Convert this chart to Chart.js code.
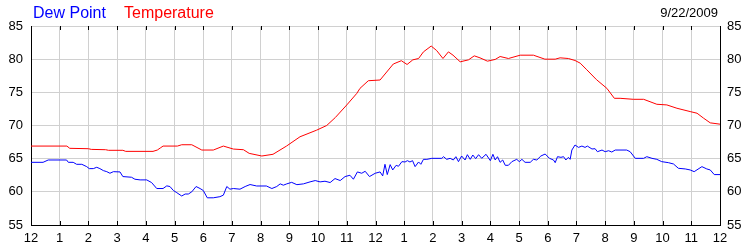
<!DOCTYPE html>
<html>
<head>
<meta charset="utf-8">
<script src="https://cdn.jsdelivr.net/npm/chart.js@4.4.1/dist/chart.umd.min.js"></script>
<style>
  body { margin: 0; background: #fff; }
  #wrap { width: 750px; height: 250px; }
</style>
</head>
<body>
<div id="wrap"><canvas id="weather-chart" width="750" height="250"></canvas></div>
<script>
// hours since midnight, 9/22/2009
const tempHours = [0, 1.25, 1.35, 2.0, 2.1, 2.6, 2.7, 3.2, 3.3, 4.25, 4.4, 4.5, 4.6, 5.1, 5.25, 5.6, 5.95, 6.35, 6.7, 7.05,
  7.4, 7.6, 8.04, 8.43, 8.9, 9.37, 9.95, 10.3, 10.6, 11.0, 11.35, 11.46, 11.75, 12.16, 12.62, 12.9, 13.1, 13.3, 13.5, 13.67,
  13.94, 14.13, 14.35, 14.54, 14.7, 14.95, 15.24, 15.44, 15.64, 15.9, 16.17, 16.34, 16.63, 17.04, 17.5, 17.9, 18.26, 18.43, 18.72, 18.95,
  19.13, 19.36, 19.7, 20.06, 20.32, 20.52, 20.98, 21.34, 21.8, 22.15, 22.5, 22.96, 23.2, 23.43, 23.66, 24];
const tempValues = [66.9, 66.9, 66.56, 66.5, 66.4, 66.35, 66.26, 66.26, 66.1, 66.1, 66.3, 66.6, 66.9, 66.9, 67.1, 67.1, 66.3, 66.3, 66.9, 66.45,
  66.35, 65.8, 65.4, 65.66, 66.9, 68.3, 69.3, 70.0, 71.2, 73.1, 74.85, 75.6, 76.75, 76.86, 79.27, 79.77, 79.2, 79.9, 80.1, 81.1,
  81.98, 81.3, 80.1, 81.1, 80.6, 79.6, 79.9, 80.5, 80.2, 79.7, 79.96, 80.4, 80.1, 80.6, 80.6, 80.0, 80.0, 80.2, 80.1, 79.8,
  79.4, 78.4, 76.9, 75.6, 74.1, 74.1, 73.95, 73.95, 73.2, 73.1, 72.6, 72.1, 71.85, 71.1, 70.4, 70.2];

const dewHours = [0, 0.42, 0.6, 1.24, 1.3, 1.47, 1.59, 1.77, 1.94, 2.03, 2.17, 2.29, 2.4, 2.52, 2.64, 2.75, 2.87, 3.1, 3.2, 3.5,
  3.62, 3.8, 4.03, 4.2, 4.38, 4.6, 4.73, 4.84, 4.96, 5.08, 5.25, 5.37, 5.48, 5.6, 5.75, 5.89, 6.0, 6.14, 6.35, 6.58,
  6.7, 6.82, 6.93, 7.05, 7.28, 7.46, 7.63, 7.86, 8.2, 8.39, 8.56, 8.68, 8.79, 8.91, 9.08, 9.26, 9.49, 9.72, 9.9, 10.07,
  10.24, 10.42, 10.59, 10.77, 10.94, 11.11, 11.23, 11.37, 11.52, 11.64, 11.79, 11.99, 12.16, 12.25, 12.33, 12.41, 12.51, 12.6, 12.72, 12.8,
  12.92, 13.03, 13.11, 13.2, 13.29, 13.38, 13.5, 13.58, 13.67, 13.79, 13.96, 14.31, 14.37, 14.48, 14.6, 14.71, 14.8, 14.89, 15.0, 15.12,
  15.2, 15.3, 15.39, 15.49, 15.59, 15.7, 15.85, 16.0, 16.09, 16.17, 16.25, 16.34, 16.43, 16.52, 16.63, 16.75, 16.92, 17.01, 17.1, 17.21,
  17.39, 17.5, 17.62, 17.76, 17.91, 18.06, 18.2, 18.26, 18.34, 18.46, 18.55, 18.63, 18.72, 18.78, 18.84, 18.95, 19.07, 19.19, 19.3, 19.38,
  19.54, 19.65, 19.73, 19.89, 20.0, 20.12, 20.23, 20.35, 20.75, 20.87, 21.05, 21.34, 21.45, 21.63, 21.8, 21.97, 22.2, 22.38, 22.55, 22.79,
  22.96, 23.1, 23.37, 23.54, 23.66, 23.8, 24];
const dewValues = [64.45, 64.45, 64.8, 64.8, 64.45, 64.45, 64.15, 64.15, 63.8, 63.5, 63.5, 63.7, 63.5, 63.2, 63.04, 62.8, 63.04, 63.0, 62.3, 62.2,
  61.9, 61.8, 61.8, 61.4, 60.5, 60.5, 60.9, 60.8, 60.2, 59.87, 59.37, 59.67, 59.67, 60.0, 60.8, 60.5, 60.2, 59.1, 59.1, 59.27,
  59.5, 60.8, 60.4, 60.5, 60.4, 60.8, 61.1, 60.88, 60.88, 60.5, 60.8, 61.2, 61.0, 61.2, 61.43, 61.08, 61.2, 61.5, 61.7, 61.5,
  61.6, 61.4, 62.0, 61.7, 62.3, 62.5, 61.9, 63.0, 62.8, 63.1, 62.3, 62.8, 63.0, 62.4, 64.15, 62.6, 64.1, 63.3, 64.0, 63.85,
  64.55, 64.5, 64.7, 64.5, 64.7, 63.8, 64.5, 64.15, 64.9, 64.9, 65.05, 65.05, 65.3, 64.9, 65.05, 64.8, 65.3, 64.55, 65.4, 64.8,
  65.6, 64.9, 65.55, 65.0, 65.6, 65.05, 65.66, 64.7, 65.66, 64.8, 65.3, 64.45, 64.8, 64.0, 64.0, 64.55, 64.9, 64.55, 64.9, 64.45,
  64.45, 64.9, 64.8, 65.4, 65.7, 65.05, 64.8, 64.4, 65.3, 65.2, 65.3, 64.8, 65.2, 64.9, 66.3, 67.06, 66.7, 66.9, 66.7, 66.9,
  66.46, 66.5, 66.05, 66.3, 66.05, 66.2, 66.0, 66.3, 66.3, 66.05, 65.05, 65.05, 65.3, 65.05, 64.9, 64.55, 64.4, 64.2, 63.55, 63.45,
  63.3, 63.04, 63.8, 63.45, 63.3, 62.6, 62.6];

const yTicks = [55, 60, 65, 70, 75, 80, 85];
const chartDate = "9/22/2009";

const FONT = "'Liberation Sans', Arial, sans-serif";
const GRID = "#d0d0d0";

function toPoints(xs, ys) {
  return xs.map((x, i) => ({ x: x, y: ys[i] }));
}

// hour ticks drawn inside the plot, top and bottom
const innerTicks = {
  id: "innerTicks",
  afterDraw(chart) {
    const { ctx, chartArea, scales } = chart;
    ctx.save();
    ctx.strokeStyle = "#000";
    ctx.lineWidth = 1;
    scales.x.ticks.forEach(t => {
      const x = Math.round(scales.x.getPixelForValue(t.value)) + 0.5;
      ctx.beginPath();
      ctx.moveTo(x, chartArea.bottom);
      ctx.lineTo(x, chartArea.bottom - 4);
      ctx.moveTo(x, chartArea.top);
      ctx.lineTo(x, chartArea.top + 4);
      ctx.stroke();
    });
    ctx.restore();
  }
};

// series names + date on top
const header = {
  id: "header",
  afterDraw(chart) {
    const ctx = chart.ctx;
    ctx.save();
    ctx.textBaseline = "alphabetic";
    ctx.font = "16px " + FONT;
    ctx.textAlign = "left";
    ctx.fillStyle = "#0000ff";
    ctx.fillText(chart.data.datasets[0].label, 33, 18);
    ctx.fillStyle = "#ff0000";
    ctx.fillText(chart.data.datasets[1].label, 124, 18);
    ctx.font = "13px " + FONT;
    ctx.fillStyle = "#000";
    ctx.textAlign = "right";
    ctx.fillText(chartDate, 718, 17);
    ctx.restore();
  }
};

const yAxis = (pos, pad, w) => ({
  type: "linear",
  position: pos,
  min: yTicks[0],
  max: yTicks[yTicks.length - 1],
  afterBuildTicks: s => { s.ticks = yTicks.map(v => ({ value: v })); },
  afterFit: s => { s.width = w; },
  grid: { color: GRID, drawTicks: false, drawOnChartArea: pos === "left" },
  border: { color: "#000", width: 1 },
  ticks: { color: "#000", padding: pad, font: { family: FONT, size: 13 } }
});

new Chart(document.getElementById("weather-chart"), {
  type: "line",
  data: {
    datasets: [
      {
        label: "Dew Point",
        data: toPoints(dewHours, dewValues),
        borderColor: "#0000ff",
        borderWidth: 1,
        pointRadius: 0,
        tension: 0,
        yAxisID: "y"
      },
      {
        label: "Temperature",
        data: toPoints(tempHours, tempValues),
        borderColor: "#ff0000",
        borderWidth: 1,
        pointRadius: 0,
        tension: 0,
        yAxisID: "y"
      }
    ]
  },
  options: {
    responsive: false,
    animation: false,
    layout: { padding: { top: 26, left: 0, right: 0, bottom: 0 } },
    plugins: {
      legend: { display: false },
      tooltip: { enabled: false }
    },
    scales: {
      x: {
        type: "linear",
        min: 0,
        max: 24,
        afterFit: s => { s.height = 25; },
        grid: { color: GRID, drawTicks: false },
        border: { color: "#000", width: 1 },
        ticks: {
          stepSize: 1,
          color: "#000",
          padding: 6,
          maxRotation: 0,
          autoSkip: false,
          font: { family: FONT, size: 13 },
          callback: v => ((v + 11) % 12) + 1
        }
      },
      y: yAxis("left", 8, 31),
      y2: yAxis("right", 7, 30)
    }
  },
  plugins: [innerTicks, header]
});
</script>
</body>
</html>
